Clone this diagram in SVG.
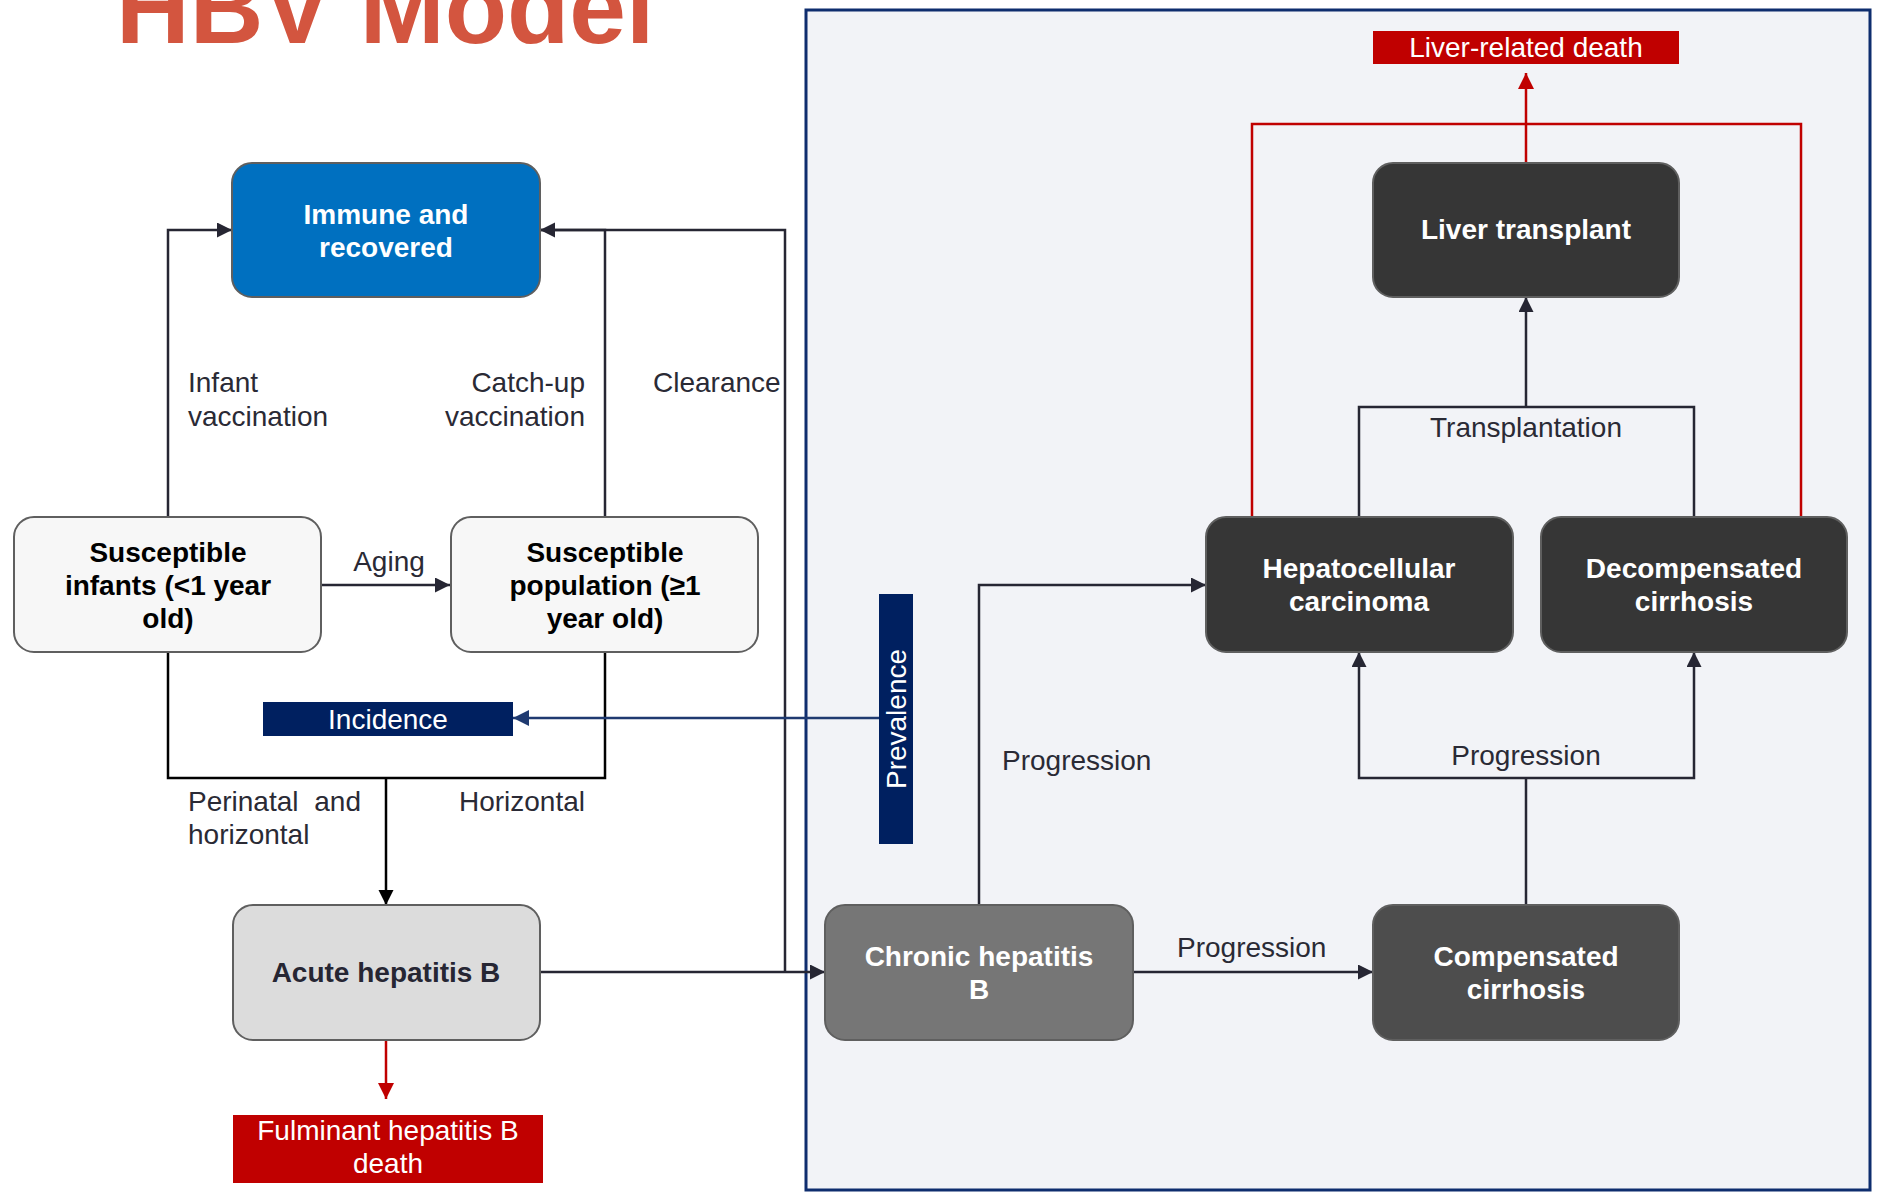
<svg xmlns="http://www.w3.org/2000/svg" width="1878" height="1192" viewBox="0 0 1878 1192">
<style>
  .node { stroke:#5f5f5f; stroke-width:2; }
  .nt { font-family:"Liberation Sans", Arial, sans-serif; font-size:28px; font-weight:bold; text-anchor:middle; }
  .lbl { font-family:"Liberation Sans", Arial, sans-serif; font-size:28px; fill:#2a2a35; }
  .wt { font-family:"Liberation Sans", Arial, sans-serif; font-size:28px; fill:#ffffff; text-anchor:middle; }
  .c { fill:none; stroke:#262633; stroke-width:2.5; }
  .k { fill:none; stroke:#000000; stroke-width:2.5; }
  .r { fill:none; stroke:#C00000; stroke-width:2.5; }
  .nv { fill:none; stroke:#1F3A70; stroke-width:2.5; }
</style>
<defs>
  <marker id="ad" markerUnits="userSpaceOnUse" markerWidth="16" markerHeight="16" refX="15" refY="7.5" orient="auto">
    <path d="M0,0 L15,7.5 L0,15 z" fill="#262633"/>
  </marker>
  <marker id="ak" markerUnits="userSpaceOnUse" markerWidth="16" markerHeight="16" refX="15" refY="7.5" orient="auto">
    <path d="M0,0 L15,7.5 L0,15 z" fill="#000000"/>
  </marker>
  <marker id="ar" markerUnits="userSpaceOnUse" markerWidth="17" markerHeight="17" refX="16" refY="8" orient="auto">
    <path d="M0,0 L16,8 L0,16 z" fill="#C00000"/>
  </marker>
  <marker id="an" markerUnits="userSpaceOnUse" markerWidth="17" markerHeight="17" refX="16" refY="8" orient="auto">
    <path d="M0,0 L16,8 L0,16 z" fill="#1F3A70"/>
  </marker>
</defs>
<rect x="0" y="0" width="1878" height="1192" fill="#ffffff"/>

<text x="116" y="43" font-family="Liberation Sans, Arial, sans-serif" font-size="102" font-weight="bold" fill="#D3553F">HBV Model</text>

<rect id="panel" x="806" y="10" width="1064" height="1180" fill="#F2F3F7" stroke="#0E2D6E" stroke-width="3"/>

<g id="connectors">
  <path class="c" d="M168,517 V230 H232" marker-end="url(#ad)"/>
  <path class="c" d="M605,517 V230 H540"/>
  <path class="c" stroke="#3a3a44" d="M785,972 V230 H540" marker-end="url(#ad)"/>
  <path class="c" d="M321,585 H450" marker-end="url(#ad)"/>
  <path class="k" d="M168,652 V778 H605 V652"/>
  <path class="k" d="M386,778 V905" marker-end="url(#ak)"/>
  <path class="r" d="M386,1040 V1099" marker-end="url(#ar)"/>
  <path class="c" d="M540,972 H825" marker-end="url(#ad)"/>
  <path class="nv" d="M879,718 H513" marker-end="url(#an)"/>
  <path class="c" d="M979,905 V585 H1206" marker-end="url(#ad)"/>
  <path class="c" d="M1133,972 H1373" marker-end="url(#ad)"/>
  <path class="c" d="M1526,905 V778"/>
  <path class="c" d="M1526,778 H1359 V652" marker-end="url(#ad)"/>
  <path class="c" d="M1526,778 H1694 V652" marker-end="url(#ad)"/>
  <path class="c" d="M1359,517 V407 H1694 V517"/>
  <path class="c" d="M1526,407 V297" marker-end="url(#ad)"/>
  <path class="r" d="M1252,517 V124 H1801 V517"/>
  <path class="r" d="M1526,163 V73" marker-end="url(#ar)"/>
</g>

<g id="labels">
  <text class="lbl" x="188" y="392">Infant</text>
  <text class="lbl" x="188" y="426">vaccination</text>
  <text class="lbl" x="585" y="392" text-anchor="end">Catch-up</text>
  <text class="lbl" x="585" y="426" text-anchor="end">vaccination</text>
  <text class="lbl" x="653" y="392">Clearance</text>
  <text class="lbl" x="389" y="571" text-anchor="middle">Aging</text>
  <text class="lbl" x="188" y="811" word-spacing="8">Perinatal and</text>
  <text class="lbl" x="188" y="844">horizontal</text>
  <text class="lbl" x="585" y="811" text-anchor="end">Horizontal</text>
  <text class="lbl" x="1002" y="770">Progression</text>
  <text class="lbl" x="1177" y="957">Progression</text>
  <text class="lbl" x="1526" y="765" text-anchor="middle">Progression</text>
  <text class="lbl" x="1526" y="437" text-anchor="middle">Transplantation</text>
</g>

<g id="immune">
  <rect class="node" x="232" y="163" width="308" height="134" rx="20" fill="#0070C0"/>
  <text class="nt" fill="#ffffff" x="386" y="224">Immune and</text>
  <text class="nt" fill="#ffffff" x="386" y="257">recovered</text>
</g>
<g id="infants">
  <rect class="node" x="14" y="517" width="307" height="135" rx="20" fill="#F7F7F7"/>
  <text class="nt" fill="#000000" x="168" y="562">Susceptible</text>
  <text class="nt" fill="#000000" x="168" y="595">infants (&lt;1 year</text>
  <text class="nt" fill="#000000" x="168" y="628">old)</text>
</g>
<g id="population">
  <rect class="node" x="451" y="517" width="307" height="135" rx="20" fill="#F7F7F7"/>
  <text class="nt" fill="#000000" x="605" y="562">Susceptible</text>
  <text class="nt" fill="#000000" x="605" y="595">population (≥1</text>
  <text class="nt" fill="#000000" x="605" y="628">year old)</text>
</g>
<g id="acute">
  <rect class="node" x="233" y="905" width="307" height="135" rx="20" fill="#DCDCDC"/>
  <text class="nt" fill="#262633" x="386" y="982">Acute hepatitis B</text>
</g>
<g id="fulminant">
  <rect x="233" y="1115" width="310" height="68" fill="#C00000"/>
  <text class="wt" x="388" y="1140">Fulminant hepatitis B</text>
  <text class="wt" x="388" y="1173">death</text>
</g>
<g id="incidence">
  <rect x="263" y="702" width="250" height="34" fill="#002060"/>
  <text class="wt" x="388" y="729">Incidence</text>
</g>
<g id="prevalence">
  <rect x="879" y="594" width="34" height="250" fill="#002060"/>
  <text class="wt" transform="translate(906,719) rotate(-90)" x="0" y="0">Prevalence</text>
</g>
<g id="chronic">
  <rect class="node" x="825" y="905" width="308" height="135" rx="20" fill="#767676"/>
  <text class="nt" fill="#ffffff" x="979" y="966">Chronic hepatitis</text>
  <text class="nt" fill="#ffffff" x="979" y="999">B</text>
</g>
<g id="compensated">
  <rect class="node" x="1373" y="905" width="306" height="135" rx="20" fill="#4D4D4D"/>
  <text class="nt" fill="#ffffff" x="1526" y="966">Compensated</text>
  <text class="nt" fill="#ffffff" x="1526" y="999">cirrhosis</text>
</g>
<g id="hcc">
  <rect class="node" x="1206" y="517" width="307" height="135" rx="20" fill="#363636"/>
  <text class="nt" fill="#ffffff" x="1359" y="578">Hepatocellular</text>
  <text class="nt" fill="#ffffff" x="1359" y="611">carcinoma</text>
</g>
<g id="decompensated">
  <rect class="node" x="1541" y="517" width="306" height="135" rx="20" fill="#363636"/>
  <text class="nt" fill="#ffffff" x="1694" y="578">Decompensated</text>
  <text class="nt" fill="#ffffff" x="1694" y="611">cirrhosis</text>
</g>
<g id="transplant">
  <rect class="node" x="1373" y="163" width="306" height="134" rx="20" fill="#363636"/>
  <text class="nt" fill="#ffffff" x="1526" y="239">Liver transplant</text>
</g>
<g id="liverdeath">
  <rect x="1373" y="31" width="306" height="33" fill="#C00000"/>
  <text class="wt" x="1526" y="57">Liver-related death</text>
</g>
</svg>
